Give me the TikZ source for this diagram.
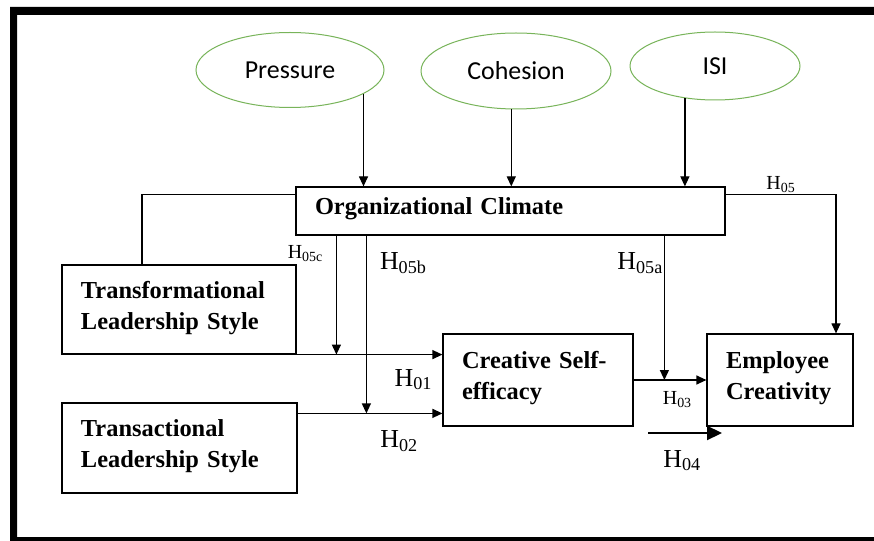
\documentclass[tikz,border=0pt]{standalone}
\usepackage{fontspec}
\setmainfont{Liberation Serif}
\newfontfamily\ovalfont{Carlito}
\usetikzlibrary{shapes.geometric,arrows.meta}
\definecolor{ovalgreen}{RGB}{120,180,90}

\tikzset{
    box/.style={draw, line width=1.2bp, inner xsep=19bp, inner ysep=0pt, align=left,
        font=\fontsize{24.5}{31}\selectfont\bfseries,
        execute at end node={\rule[-9bp]{0pt}{0pt}}},
    oval/.style={draw=ovalgreen, line width=1bp, ellipse, inner sep=0pt,
        font=\ovalfont\fontsize{26}{30}\selectfont},
    hbig/.style={font=\fontsize{26}{28}\selectfont, inner sep=1bp},
    hsmall/.style={font=\fontsize{20}{22}\selectfont, inner sep=1bp},
    >={Triangle[length=10bp,width=9bp]}
}

\begin{document}
\begin{tikzpicture}[x=1bp,y=-1bp]
    \useasboundingbox (0,0) rectangle (874,541);
    \fill[white] (0,0) rectangle (874,541);
    \fill (10,7) rectangle (874,15) (10,7) rectangle (17,541) (10,537) rectangle (874,541);

    \node[oval, minimum width=188bp, minimum height=75bp] (press) at (290,70) {Pressure};
    \node[oval, minimum width=190bp, minimum height=76bp] (coh) at (516,71) {Cohesion};
    \node[oval, minimum width=170bp, minimum height=68bp] (isi) at (715,66) {ISI};

    \node[box, text width=391bp, minimum height=48bp] (oc) at (510.5,211) {Organizational Climate};
    \node[box, text width=196bp, minimum height=89bp] (tls) at (179,309.5) {Transformational\\Leadership Style};
    \node[box, text width=197bp, minimum height=90bp] (trls) at (179.5,448) {Transactional\\Leadership Style};
    \node[box, text width=152bp, minimum height=92bp] (cse) at (538,380) {Creative Self-\\efficacy};
    \node[box, text width=108bp, minimum height=92bp] (ec) at (780,380) {Employee\\Creativity};

    \draw[->, line width=1.2bp] (press.-18) -- (press.-18 |- oc.north);
    \draw[->, line width=1.2bp] (coh.-97) -- (coh.-97 |- oc.north);
    \draw[->, line width=1.2bp] (isi.-133) -- (isi.-133 |- oc.north);

    \draw[line width=1.2bp] ([yshift=-8bp]oc.north west) -| ([xshift=-37bp]tls.north);
    \draw[->, line width=1.2bp] ([yshift=-8bp]oc.north east) -| node[hsmall, pos=0.25, above] {H\textsubscript{05}} ([xshift=56bp]ec.north);

    \coordinate (t2) at ([yshift=-11bp]trls.north east);
    \draw[->, line width=1.2bp] (tls.south east) -- node[hbig, pos=0.8, below=13bp] {H\textsubscript{01}} (tls.south east -| cse.west);
    \draw[->, line width=1.2bp] (t2) -- node[hbig, pos=0.7, below=16bp] {H\textsubscript{02}} (t2 -| cse.west);
    \draw[->, line width=1.2bp] (cse.east) -- node[hsmall, pos=0.6, below=10bp] {H\textsubscript{03}} (ec.west);

    \draw[->, line width=1.2bp] ([xshift=41bp]oc.south west) -- node[hsmall, pos=0.15, left=12bp] {H\textsubscript{05c}} ([xshift=41bp]oc.south west |- tls.south);
    \draw[->, line width=1.2bp] ([xshift=71bp]oc.south west) -- node[hbig, pos=0.156, right=12bp] {H\textsubscript{05b}} ([xshift=71bp]oc.south west |- t2);
    \draw[->, line width=1.2bp] ([xshift=369bp]oc.south west) -- node[hbig, pos=0.19, left=0bp] {H\textsubscript{05a}} ([xshift=369bp]oc.south west |- cse.east);

    % H04 stands on its own
    \coordinate (h4s) at (648,433);
    \coordinate (h4e) at (722,433);
    \draw[-{Triangle[length=15bp,width=14bp]}, line width=2.2bp] (h4s) -- node[hbig, pos=0.46, below=15bp] {H\textsubscript{04}} (h4e);
\end{tikzpicture}
\end{document}
